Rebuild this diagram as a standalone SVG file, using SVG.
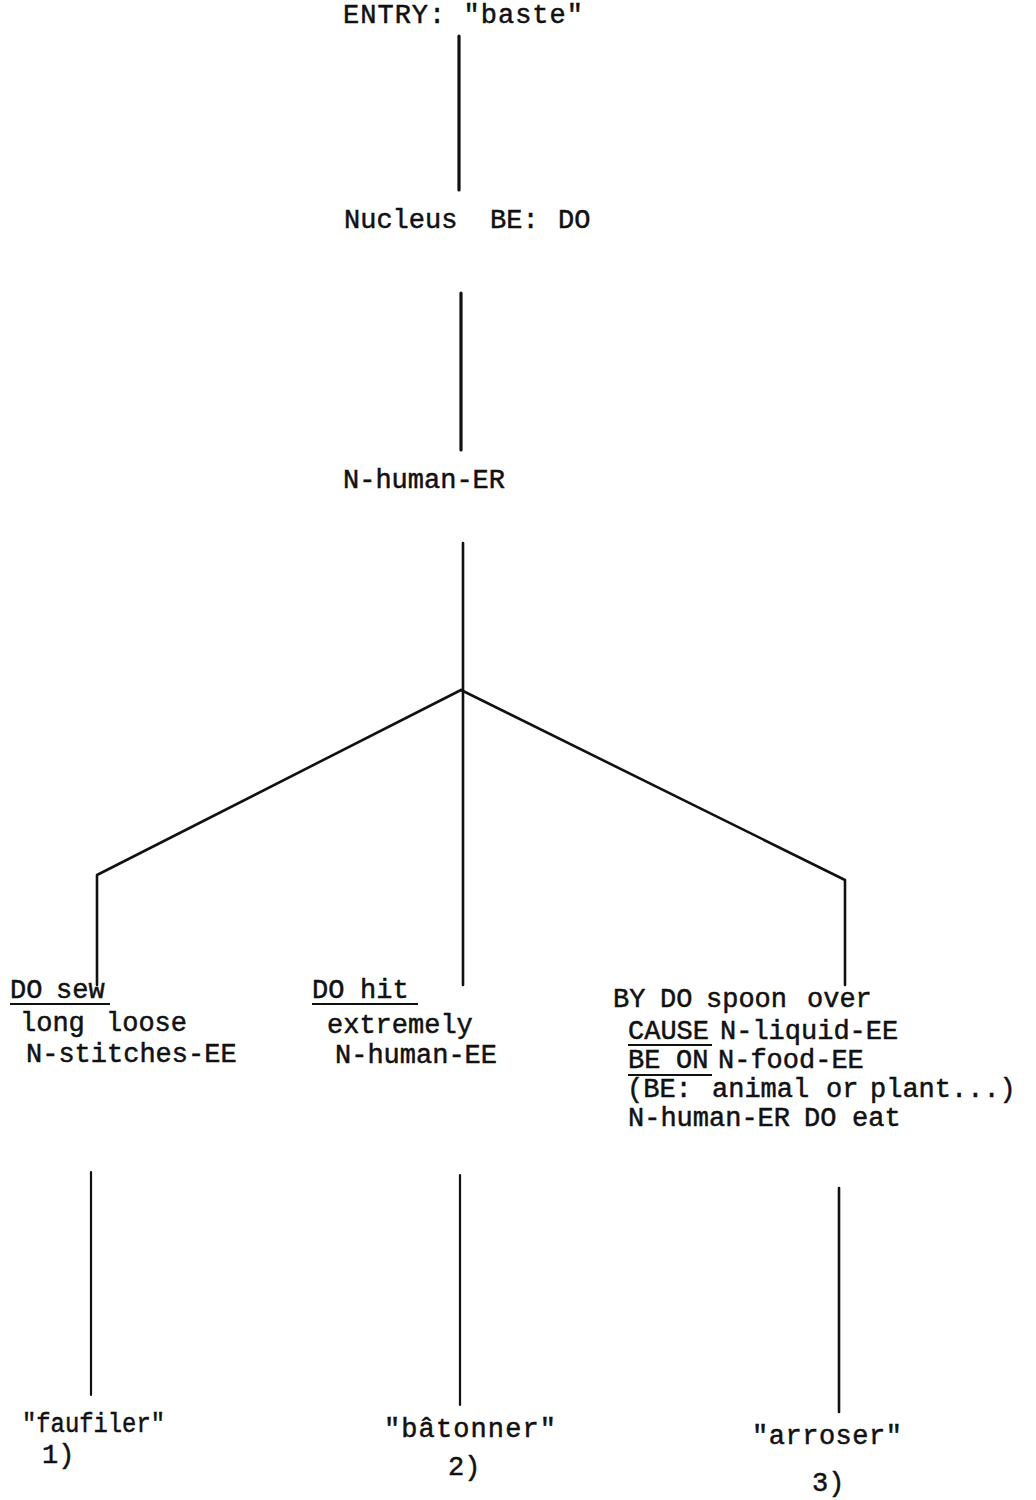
<svg xmlns="http://www.w3.org/2000/svg" width="1036" height="1500" viewBox="0 0 1036 1500">
  <style>
    text { font-family: "Liberation Mono", "Courier New", monospace; font-size: 27px; fill: #111; stroke: #111; stroke-width: 0.5; }
    .edge { stroke: #111; fill: none; stroke-linecap: round; stroke-linejoin: round; }
    .heavy { stroke-width: 3.2; }
    .mid { stroke-width: 2.6; }
    .thin { stroke-width: 2.2; }
    .ul { stroke: #111; stroke-width: 2; }
  </style>
  <rect width="1036" height="1500" fill="#fff"/>

  <!-- tree connectors -->
  <g id="connectors">
    <line class="edge heavy" x1="459" y1="36" x2="459" y2="190"/>
    <line class="edge heavy" x1="461" y1="293" x2="461" y2="450"/>
    <line class="edge mid" x1="463" y1="543" x2="463" y2="985"/>
    <polyline class="edge mid" points="461,690 97,875 97,985"/>
    <polyline class="edge mid" points="461,690 845,880 845,985"/>
    <line class="edge thin" x1="91" y1="1172" x2="91" y2="1395"/>
    <line class="edge thin" x1="460" y1="1175" x2="460" y2="1405"/>
    <line class="edge mid" x1="839" y1="1188" x2="839" y2="1412"/>
  </g>

  <g id="entry">
    <text x="343" y="23" textLength="240" lengthAdjust="spacing">ENTRY: "baste"</text>
  </g>

  <g id="nucleus">
    <text y="228"><tspan x="344">Nucleus</tspan> <tspan x="490">BE:</tspan>  <tspan x="558">DO</tspan></text>
  </g>

  <g id="agent">
    <text x="343" y="488">N-human-ER</text>
  </g>

  <g id="sense1">
    <text y="998"><tspan x="10">DO</tspan> <tspan x="56">sew</tspan></text>
    <line class="ul" x1="10" y1="1004" x2="110" y2="1004"/>
    <text y="1031"><tspan x="20">long</tspan> <tspan x="106">loose</tspan></text>
    <text x="26" y="1062">N-stitches-EE</text>
  </g>

  <g id="sense2">
    <text y="998"><tspan x="312">DO</tspan> <tspan x="360">hit</tspan></text>
    <line class="ul" x1="312" y1="1004" x2="418" y2="1004"/>
    <text x="327" y="1033">extremely</text>
    <text x="335" y="1063">N-human-EE</text>
  </g>

  <g id="sense3">
    <text y="1007"><tspan x="613">BY</tspan> <tspan x="660">DO</tspan> <tspan x="706">spoon</tspan> <tspan x="807">over</tspan></text>
    <text y="1039"><tspan x="628">CAUSE</tspan> <tspan x="720">N-liquid-EE</tspan></text>
    <line class="ul" x1="628" y1="1045" x2="712" y2="1045"/>
    <text y="1068"><tspan x="628">BE</tspan> <tspan x="676">ON</tspan> <tspan x="718">N-food-EE</tspan></text>
    <line class="ul" x1="628" y1="1075" x2="712" y2="1075"/>
    <text y="1097"><tspan x="627">(BE:</tspan>  <tspan x="712">animal</tspan> <tspan x="826">or</tspan> <tspan x="870">plant...)</tspan></text>
    <text y="1126"><tspan x="628">N-human-ER</tspan> <tspan x="804">DO</tspan> <tspan x="852">eat</tspan></text>
  </g>

  <g id="result1">
    <text x="22" y="1432" textLength="143" lengthAdjust="spacingAndGlyphs">"faufiler"</text>
    <text x="42" y="1463">1)</text>
  </g>

  <g id="result2">
    <text x="384" y="1437" textLength="172" lengthAdjust="spacing">"bâtonner"</text>
    <text x="448" y="1475">2)</text>
  </g>

  <g id="result3">
    <text x="752" y="1444" textLength="150" lengthAdjust="spacing">"arroser"</text>
    <text x="812" y="1491">3)</text>
  </g>
</svg>
